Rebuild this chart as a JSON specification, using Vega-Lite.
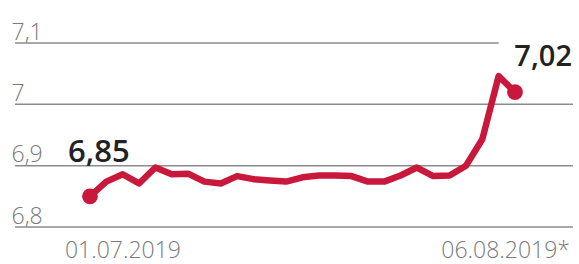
{
  "$schema": "https://vega.github.io/schema/vega-lite/v6.json",
  "width": 558,
  "height": 184,
  "autosize": "none",
  "padding": {"left": 15, "top": 43, "right": 6, "bottom": 37},
  "background": "white",
  "config": {
    "view": {"stroke": null},
    "axisY": {
      "domain": false,
      "ticks": false,
      "tickSize": 0,
      "grid": false,
      "labelAlign": "left",
      "labelBaseline": "alphabetic",
      "labelPadding": 4,
      "labelOffset": -4,
      "labelFont": "Open Sans",
      "labelFontSize": 23,
      "labelFontWeight": 300,
      "labelColor": "#7a7a7a",
      "labelOverlap": false,
      "title": null
    }
  },
  "datasets": {
    "rate": [
      {"i": 0, "date": "01.07.2019", "value": 6.850},
      {"i": 1, "date": "02.07.2019", "value": 6.874},
      {"i": 2, "date": "03.07.2019", "value": 6.886},
      {"i": 3, "date": "04.07.2019", "value": 6.871},
      {"i": 4, "date": "05.07.2019", "value": 6.897},
      {"i": 5, "date": "08.07.2019", "value": 6.886},
      {"i": 6, "date": "09.07.2019", "value": 6.887},
      {"i": 7, "date": "10.07.2019", "value": 6.874},
      {"i": 8, "date": "11.07.2019", "value": 6.871},
      {"i": 9, "date": "12.07.2019", "value": 6.883},
      {"i": 10, "date": "15.07.2019", "value": 6.878},
      {"i": 11, "date": "16.07.2019", "value": 6.876},
      {"i": 12, "date": "17.07.2019", "value": 6.874},
      {"i": 13, "date": "18.07.2019", "value": 6.881},
      {"i": 14, "date": "19.07.2019", "value": 6.884},
      {"i": 15, "date": "22.07.2019", "value": 6.884},
      {"i": 16, "date": "23.07.2019", "value": 6.883},
      {"i": 17, "date": "24.07.2019", "value": 6.874},
      {"i": 18, "date": "25.07.2019", "value": 6.874},
      {"i": 19, "date": "26.07.2019", "value": 6.884},
      {"i": 20, "date": "29.07.2019", "value": 6.897},
      {"i": 21, "date": "30.07.2019", "value": 6.883},
      {"i": 22, "date": "31.07.2019", "value": 6.884},
      {"i": 23, "date": "01.08.2019", "value": 6.900},
      {"i": 24, "date": "02.08.2019", "value": 6.943},
      {"i": 25, "date": "05.08.2019", "value": 7.046},
      {"i": 26, "date": "06.08.2019", "value": 7.020}
    ],
    "grid": [{"v": 6.8}, {"v": 6.9}, {"v": 7.0}],
    "ends": [
      {"i": 0, "value": 6.85, "text": "6,85", "date": "01.07.2019"},
      {"i": 26, "value": 7.02, "text": "7,02", "date": "06.08.2019*"}
    ]
  },
  "layer": [
    {
      "data": {"name": "grid"},
      "mark": {"type": "rule", "color": "#8c8c8c", "strokeWidth": 1.5},
      "encoding": {
        "y": {
          "field": "v",
          "type": "quantitative",
          "scale": {"domain": [6.8, 7.1], "nice": false, "zero": false},
          "axis": {"values": [6.8, 6.9, 7, 7.1], "format": ".1~f", "labelExpr": "replace(datum.label, '.', ',')"}
        }
      }
    },
    {
      "data": {"values": [{}]},
      "mark": {"type": "rule", "color": "#8c8c8c", "strokeWidth": 1.5},
      "encoding": {
        "x": {"datum": -4.588, "type": "quantitative", "scale": {"domain": [-4.588, 29.549], "nice": false, "zero": false}, "axis": null},
        "x2": {"datum": 25},
        "y": {"datum": 7.1, "type": "quantitative", "axis": {"values": [6.8, 6.9, 7, 7.1], "format": ".1~f", "labelExpr": "replace(datum.label, '.', ',')"}}
      }
    },
    {
      "data": {"name": "rate"},
      "mark": {"type": "line", "color": "#c8193c", "strokeWidth": 6.5, "strokeCap": "round", "strokeJoin": "round"},
      "encoding": {
        "x": {"field": "i", "type": "quantitative", "axis": null},
        "y": {"field": "value", "type": "quantitative", "axis": {"values": [6.8, 6.9, 7, 7.1], "format": ".1~f", "labelExpr": "replace(datum.label, '.', ',')"}}
      }
    },
    {
      "data": {"name": "ends"},
      "mark": {"type": "circle", "color": "#c8193c", "size": 250, "opacity": 1},
      "encoding": {
        "x": {"field": "i", "type": "quantitative", "axis": null},
        "y": {"field": "value", "type": "quantitative", "axis": {"values": [6.8, 6.9, 7, 7.1], "format": ".1~f", "labelExpr": "replace(datum.label, '.', ',')"}}
      }
    },
    {
      "data": {"name": "ends"},
      "transform": [{"filter": "datum.i == 0"}],
      "mark": {"type": "text", "align": "left", "baseline": "alphabetic", "dx": -22, "dy": -34, "font": "Open Sans", "fontSize": 31, "fontWeight": 600, "color": "#222222"},
      "encoding": {
        "x": {"field": "i", "type": "quantitative", "axis": null},
        "y": {"field": "value", "type": "quantitative", "axis": {"values": [6.8, 6.9, 7, 7.1], "format": ".1~f", "labelExpr": "replace(datum.label, '.', ',')"}},
        "text": {"field": "text"}
      }
    },
    {
      "data": {"name": "ends"},
      "transform": [{"filter": "datum.i == 26"}],
      "mark": {"type": "text", "align": "right", "baseline": "alphabetic", "dx": 57, "dy": -26, "font": "Open Sans", "fontSize": 29, "fontWeight": 600, "color": "#222222"},
      "encoding": {
        "x": {"field": "i", "type": "quantitative", "axis": null},
        "y": {"field": "value", "type": "quantitative", "axis": {"values": [6.8, 6.9, 7, 7.1], "format": ".1~f", "labelExpr": "replace(datum.label, '.', ',')"}},
        "text": {"field": "text"}
      }
    },
    {
      "data": {"name": "ends"},
      "transform": [{"filter": "datum.i == 0"}],
      "mark": {"type": "text", "align": "left", "baseline": "alphabetic", "dx": -25, "dy": 31, "font": "Open Sans", "fontSize": 23, "fontWeight": 300, "color": "#7a7a7a"},
      "encoding": {
        "x": {"field": "i", "type": "quantitative", "axis": null},
        "y": {"datum": 6.8, "type": "quantitative", "axis": {"values": [6.8, 6.9, 7, 7.1], "format": ".1~f", "labelExpr": "replace(datum.label, '.', ',')"}},
        "text": {"field": "date"}
      }
    },
    {
      "data": {"name": "ends"},
      "transform": [{"filter": "datum.i == 26"}],
      "mark": {"type": "text", "align": "right", "baseline": "alphabetic", "dx": 55, "dy": 31, "font": "Open Sans", "fontSize": 23, "fontWeight": 300, "color": "#7a7a7a"},
      "encoding": {
        "x": {"field": "i", "type": "quantitative", "axis": null},
        "y": {"datum": 6.8, "type": "quantitative", "axis": {"values": [6.8, 6.9, 7, 7.1], "format": ".1~f", "labelExpr": "replace(datum.label, '.', ',')"}},
        "text": {"field": "date"}
      }
    }
  ]
}
